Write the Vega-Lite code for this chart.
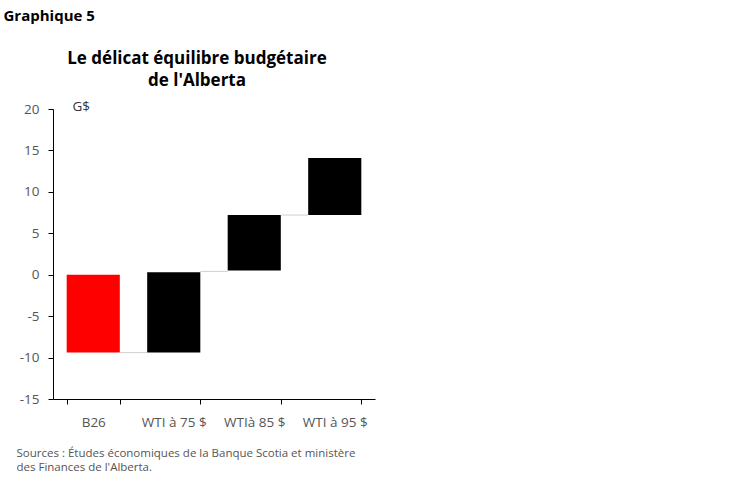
{
  "$schema": "https://vega.github.io/schema/vega-lite/v6.json",
  "autosize": "none",
  "width": 322,
  "height": 290,
  "padding": {"left": 53, "top": 109, "right": 373, "bottom": 84},
  "background": "white",
  "config": {
    "font": "Open Sans",
    "view": {"stroke": null},
    "axis": {"grid": false, "labelFont": "Open Sans", "titleFont": "Open Sans"}
  },
  "title": {
    "text": ["Le délicat équilibre budgétaire", "de l'Alberta"],
    "anchor": "middle",
    "frame": "group",
    "font": "Open Sans",
    "dx": -17,
    "dy": 104,
    "offset": 22,
    "fontSize": 17,
    "fontWeight": "bold",
    "lineHeight": 22,
    "color": "#000000"
  },
  "datasets": {
    "bars": [
      {"cat": "B26", "start": 0, "end": -9.4, "type": "budget"},
      {"cat": "WTI à 75 $", "start": -9.4, "end": 0.3, "type": "scenario"},
      {"cat": "WTIà 85 $", "start": 0.5, "end": 7.2, "type": "scenario"},
      {"cat": "WTI à 95 $", "start": 7.2, "end": 14.1, "type": "scenario"}
    ],
    "links": [
      {"from": "B26", "to": "WTI à 75 $", "level": -9.4},
      {"from": "WTI à 75 $", "to": "WTIà 85 $", "level": 0.4},
      {"from": "WTIà 85 $", "to": "WTI à 95 $", "level": 7.2}
    ]
  },
  "layer": [
    {
      "data": {"name": "bars"},
      "mark": {"type": "bar"},
      "encoding": {
        "x": {
          "field": "cat",
          "type": "nominal",
          "sort": null,
          "scale": {
            "domain": ["B26", "WTI à 75 $", "WTIà 85 $", "WTI à 95 $"],
            "paddingInner": 0.34,
            "paddingOuter": 0.17
          },
          "axis": {
            "labelAngle": 0,
            "labelFontSize": 13.5,
            "labelColor": "#555555",
            "labelPadding": 11,
            "domainColor": "#000000",
            "tickColor": "#000000",
            "tickSize": 5,
            "tickBand": "extent",
            "title": ["Sources : Études économiques de la Banque Scotia et ministère", "des Finances de l'Alberta."],
            "titleFontSize": 11.5,
            "titleFontWeight": "normal",
            "titleColor": "#555555",
            "titleAlign": "left",
            "titleAnchor": "start",
            "titleBaseline": "alphabetic",
            "titleLineHeight": 14,
            "titleX": -37,
            "titleY": 57
          }
        },
        "y": {
          "field": "start",
          "type": "quantitative",
          "scale": {"domain": [-15, 20], "nice": false, "zero": false},
          "axis": {
            "values": [-15, -10, -5, 0, 5, 10, 15, 20],
            "labelExpr": "toString(datum.value)",
            "labelFontSize": 13.5,
            "labelColor": "#555555",
            "labelPadding": 9,
            "domainColor": "#000000",
            "tickColor": "#000000",
            "tickSize": 5,
            "title": "G$",
            "titleAngle": 0,
            "titleFontSize": 13.5,
            "titleFontWeight": "normal",
            "titleColor": "#333333",
            "titleAlign": "left",
            "titleBaseline": "alphabetic",
            "titleX": 19,
            "titleY": 1
          }
        },
        "y2": {"field": "end"},
        "color": {
          "field": "type",
          "type": "nominal",
          "scale": {"domain": ["budget", "scenario"], "range": ["#ff0000", "#000000"]},
          "legend": null
        }
      }
    },
    {
      "data": {"name": "links"},
      "mark": {"type": "rule", "color": "#d0d0d0", "strokeWidth": 1},
      "encoding": {
        "x": {
          "field": "from",
          "type": "nominal",
          "bandPosition": 1,
          "axis": {
            "orient": "top",
            "domain": false,
            "ticks": false,
            "labels": false,
            "title": "Graphique 5",
            "titleFontSize": 15,
            "titleFontWeight": "bold",
            "titleColor": "#000000",
            "titleAlign": "left",
            "titleAnchor": "start",
            "titleBaseline": "alphabetic",
            "titleX": -50,
            "titleY": -89
          }
        },
        "x2": {"field": "to", "bandPosition": 0},
        "y": {"field": "level", "type": "quantitative"}
      }
    }
  ],
  "resolve": {"axis": {"x": "independent"}}
}
